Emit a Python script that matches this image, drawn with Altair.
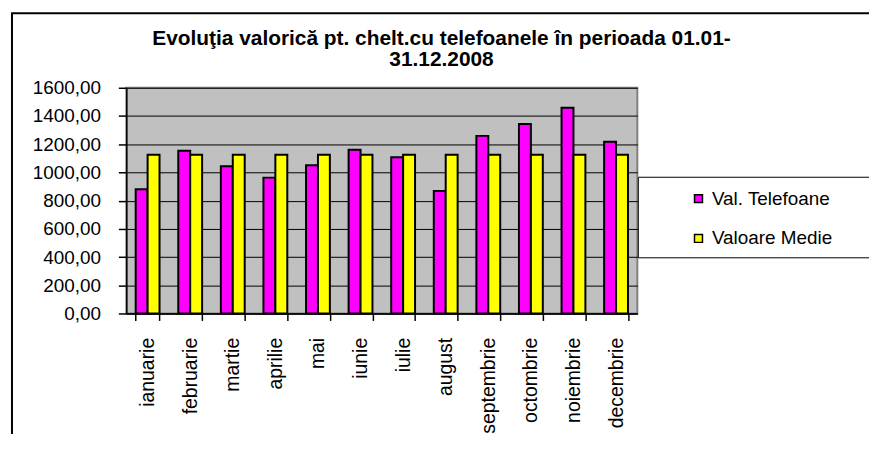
import altair as alt
import pandas as pd

months = ["ianuarie", "februarie", "martie", "aprilie", "mai", "iunie",
          "iulie", "august", "septembrie", "octombrie", "noiembrie", "decembrie"]
series = ["Val. Telefoane", "Valoare Medie"]
val_telefoane = [881, 1154, 1043, 963, 1050, 1161, 1107, 869, 1259, 1344, 1459, 1217]
val_medie = [1125.6, 1125.6, 1125.6, 1125.6, 1125.6, 1125.6,
             1125.6, 1125.6, 1125.6, 1125.6, 1125.6, 1125.6]
colors = ["#FF00FF", "#FFFF00"]
y_ticks = [0, 200, 400, 600, 800, 1000, 1200, 1400, 1600]
title_lines = ["Evoluţia valorică pt. chelt.cu telefoanele în perioada 01.01-", "31.12.2008"]

rows = []
for m, a, b in zip(months, val_telefoane, val_medie):
    rows.append({"luna": m, "serie": series[0], "valoare": a})
    rows.append({"luna": m, "serie": series[1], "valoare": b})
df = pd.DataFrame(rows)

FONT = "Liberation Sans"

bars = alt.Chart(df).mark_bar(stroke="black", strokeWidth=2).encode(
    x=alt.X("luna:N", sort=months,
            scale=alt.Scale(paddingInner=0.44, paddingOuter=0.22),
            axis=alt.Axis(title=None, labelAngle=-90, tickBand="extent", tickSize=7,
                          labelPadding=17, labelFontSize=19.5, labelFont=FONT,
                          labelColor="black", domainColor="black", tickColor="black",
                          domainWidth=1.5, tickWidth=1.5, grid=False)),
    xOffset=alt.XOffset("serie:N", sort=series, scale=alt.Scale(paddingInner=0, paddingOuter=0)),
    y=alt.Y("valoare:Q", scale=alt.Scale(domain=[0, 1600], nice=False),
            axis=alt.Axis(title=None, values=y_ticks, tickSize=8, labelPadding=18,
                          labelFontSize=19, labelFont=FONT, labelColor="black",
                          labelExpr="replace(format(datum.value, '.2f'), '.', ',')",
                          domainColor="black", tickColor="black", domainWidth=1.5,
                          tickWidth=1.5, grid=True, gridColor="black", gridWidth=1,
                          gridOpacity=1)),
    color=alt.Color("serie:N", sort=series,
                    scale=alt.Scale(domain=series, range=colors),
                    legend=alt.Legend(title=None, orient="none", legendX=566, legendY=102,
                                      symbolType="square", symbolSize=64,
                                      symbolStrokeColor="black", symbolStrokeWidth=1.5,
                                      symbolOpacity=1,
                                      labelFontSize=19, labelFont=FONT, labelColor="black",
                                      labelOffset=4, rowPadding=20, padding=0)),
)

one = pd.DataFrame({"k": [0]})
frame_left = alt.Chart(one).mark_rule(color="black", strokeWidth=2).encode(
    x=alt.value(-115), y=alt.value(-75), y2=alt.value(400))
frame_top = alt.Chart(one).mark_rule(color="black", strokeWidth=2).encode(
    x=alt.value(-116), x2=alt.value(800), y=alt.value(-75))
legend_box = alt.Chart(one).mark_rect(fill="white", stroke="black", strokeWidth=1).encode(
    x=alt.value(515), x2=alt.value(800), y=alt.value(90), y2=alt.value(171))

title1 = alt.Chart(one).mark_text(font=FONT, fontSize=21, fontWeight="bold", color="black",
                                  align="center", baseline="alphabetic").encode(
    x=alt.value(317), y=alt.value(-43), text=alt.value(title_lines[0]))
title2 = alt.Chart(one).mark_text(font=FONT, fontSize=21, fontWeight="bold", color="black",
                                  align="center", baseline="alphabetic").encode(
    x=alt.value(317), y=alt.value(-22), text=alt.value(title_lines[1]))

chart = alt.layer(frame_left, frame_top, legend_box, title1, title2, bars).properties(
    width=514, height=227,
    padding={"left": 119, "top": 79, "right": 233, "bottom": 120},
    autosize=alt.AutoSizeParams(type="none"),
    background="white",
).configure_view(fill="#C0C0C0", stroke="#808080", strokeWidth=2)

chart.save("out.html", embed_options={"renderer": "svg", "actions": False})
